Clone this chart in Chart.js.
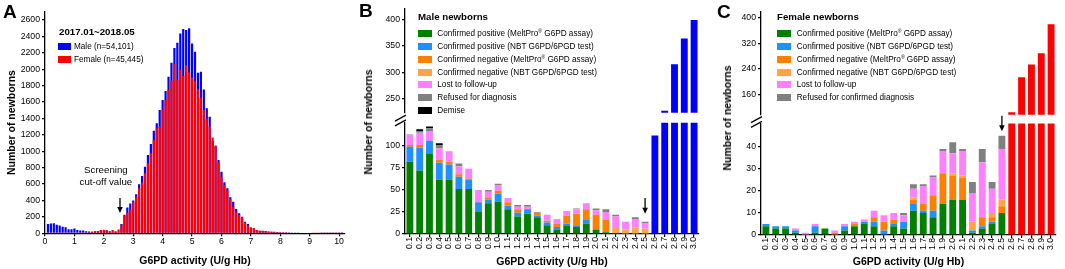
<!DOCTYPE html>
<html>
<head>
<meta charset="utf-8">
<script src="https://cdn.jsdelivr.net/npm/chart.js@4.4.1/dist/chart.umd.min.js"></script>
<style>
  body { margin: 0; background: #fff; width: 1065px; height: 269px; position: relative; overflow: hidden;
         font-family: "Liberation Sans", Arial, sans-serif; color: #000; }
  canvas { position: absolute; }
  .panel { position: absolute; font-weight: bold; font-size: 19px; line-height: 20px; }
  .ytitle { position: absolute; font-weight: bold; font-size: 10.5px; white-space: nowrap;
            transform: translate(-50%, -50%) rotate(-90deg); }
  .ltitle { position: absolute; font-weight: bold; font-size: 9.7px; line-height: 12px; white-space: nowrap; }
  .lrow { position: absolute; height: 10px; display: flex; align-items: center; font-size: 8.2px; white-space: nowrap; }
  .lrow i { display: inline-block; height: 7px; }
  .lrow sup { font-size: 5px; vertical-align: 3px; line-height: 0; }
</style>
</head>
<body>
<canvas id="chartA" width="350" height="269" style="left:0;top:0"></canvas>
<canvas id="chartBtop" width="345" height="120" style="left:360px;top:0"></canvas>
<canvas id="chartBlow" width="345" height="159" style="left:360px;top:110px"></canvas>
<canvas id="chartCtop" width="349" height="122" style="left:716px;top:0"></canvas>
<canvas id="chartClow" width="349" height="159" style="left:716px;top:110px"></canvas>

<div class="panel" style="left:3px;top:2px">A</div>
<div class="panel" style="left:359px;top:1px">B</div>
<div class="panel" style="left:717px;top:2px">C</div>
<div class="ytitle" style="left:368px;top:122px">Number of newborns</div>
<div class="ytitle" style="left:727px;top:118px">Number of newborns</div>
<div id="legends"></div>

<script>
// ---- panel A: distribution of G6PD activity, bins of 0.1 U/g Hb ----
const binsA = [
  0.1, 0.2, 0.3, 0.4, 0.5, 0.6, 0.7, 0.8, 0.9, 1.0,
  1.1, 1.2, 1.3, 1.4, 1.5, 1.6, 1.7, 1.8, 1.9, 2.0,
  2.1, 2.2, 2.3, 2.4, 2.5, 2.6, 2.7, 2.8, 2.9, 3.0,
  3.1, 3.2, 3.3, 3.4, 3.5, 3.6, 3.7, 3.8, 3.9, 4.0,
  4.1, 4.2, 4.3, 4.4, 4.5, 4.6, 4.7, 4.8, 4.9, 5.0,
  5.1, 5.2, 5.3, 5.4, 5.5, 5.6, 5.7, 5.8, 5.9, 6.0,
  6.1, 6.2, 6.3, 6.4, 6.5, 6.6, 6.7, 6.8, 6.9, 7.0,
  7.1, 7.2, 7.3, 7.4, 7.5, 7.6, 7.7, 7.8, 7.9, 8.0,
  8.1, 8.2, 8.3, 8.4, 8.5, 8.6, 8.7, 8.8, 8.9, 9.0,
  9.1, 9.2, 9.3, 9.4, 9.5, 9.6, 9.7, 9.8, 9.9, 10.0,
  10.1
];
const maleA = [
  113, 119, 122, 103, 94, 80, 74, 50, 50, 57,
  41, 33, 33, 25, 22, 17, 26, 29, 35, 29,
  28, 22, 14, 19, 14, 112, 227, 315, 364, 399,
  475, 597, 699, 812, 955, 1089, 1251, 1340, 1503, 1625,
  1735, 1909, 2080, 2259, 2324, 2437, 2490, 2478, 2498, 2314,
  2213, 1957, 1969, 1754, 1523, 1421, 1125, 1068, 893, 751,
  621, 548, 438, 386, 296, 244, 203, 142, 114, 65,
  61, 41, 32, 32, 28, 22, 20, 18, 16, 14,
  13, 12, 11, 10, 9, 9, 8, 8, 7, 7,
  6, 6, 6, 5, 5, 5, 5, 4, 4, 4,
  4
];
const femaleA = [
  5, 4, 4, 3, 1, 5, 3, 2, 5, 6,
  7, 11, 9, 10, 10, 23, 23, 27, 39, 42,
  39, 24, 39, 24, 45, 104, 214, 254, 289, 380,
  447, 548, 617, 731, 853, 975, 1137, 1280, 1300, 1511,
  1625, 1747, 1860, 2064, 1869, 1990, 1917, 2050, 1960, 1896,
  1859, 1754, 1652, 1502, 1393, 1300, 1169, 1068, 865, 690,
  589, 528, 414, 325, 264, 223, 195, 130, 97, 73,
  61, 41, 32, 28, 25, 20, 18, 15, 14, 12,
  11, 10, 9, 8, 8, 7, 7, 6, 6, 6,
  5, 5, 5, 4, 4, 4, 4, 3, 3, 3,
  3
];
const xTicksA = [0, 1, 2, 3, 4, 5, 6, 7, 8, 9, 10];
const yTicksA = [0, 200, 400, 600, 800, 1000, 1200, 1400, 1600, 1800, 2000, 2200, 2400, 2600];

// ---- panels B and C: categories 0.1 .. 3.0 ----
const catsBC = ['0.1','0.2','0.3','0.4','0.5','0.6','0.7','0.8','0.9','1.0',
                '1.1','1.2','1.3','1.4','1.5','1.6','1.7','1.8','1.9','2.0',
                '2.1','2.2','2.3','2.4','2.5','2.6','2.7','2.8','2.9','3.0'];

// male newborns, bins 0.1 .. 2.5 (below cut-off)
const mPosMelt = [82,72,91,62,62,51,51,25,35,37,28,20,23,19,10,5,9,8,12,5,2,1,0,0,0];
const mPosNbt  = [17,26,15,19,17,14,11,11,4,9,4,4,5,2,3,3,3,1,4,0,0,0,0,0,0];
const mNegMelt = [2,3,0,3,3,3,1,1,2,3,4,4,0,3,2,4,9,14,12,17,14,0,0,0,0];
const mNegNbt  = [0,0,0,0,0,0,0,0,0,0,0,0,0,0,0,0,0,0,0,0,0,7,5,7,6];
const mLost    = [11,14,11,13,12,9,11,13,7,6,5,3,3,0,7,5,5,5,7,5,9,12,9,10,6];
const mRefused = [1,2,3,4,0,3,0,0,2,2,0,2,2,1,0,0,0,1,0,2,3,2,0,2,2];
const mDemise  = [0,2,2,2,0,0,0,0,0,0,0,0,0,0,0,0,0,0,0,0,0,0,0,0,0];
const mAbove   = [112,227,315,364,399];   // 2.6 .. 3.0

// female newborns, bins 0.1 .. 2.5
const fPosMelt = [4,3,3,1,0,1,3,0,2,4,5,4,0,4,3,11,10,8,14,16,16,1,3,5,10];
const fPosNbt  = [1,1,1,1,0,3,0,0,2,0,1,2,2,1,3,3,1,3,0,0,0,1,1,1,0];
const fNegMelt = [0,0,0,0,0,0,0,1,0,1,0,2,4,2,0,2,3,7,14,11,10,0,4,2,3];
const fNegNbt  = [0,0,0,0,0,0,0,0,0,0,0,0,0,0,0,1,0,0,0,1,1,4,0,2,3];
const fLost    = [0,0,0,1,1,1,0,1,1,1,1,3,3,3,3,4,8,8,10,9,11,13,25,11,23];
const fRefused = [0,0,0,0,0,0,0,0,0,0,0,0,0,0,1,2,1,1,1,5,1,5,6,3,6];
const fAbove   = [104,214,254,289,380];

const yTicksBtop = [250, 300, 350, 400];
const yTicksBlow = [0, 25, 50, 75, 100];
const yTicksCtop = [160, 240, 320, 400];
const yTicksClow = [0, 10, 20, 30, 40];

const ink = '#000';
const colors = {
  posMelt: '#008000', posNbt: '#1e90ff', negMelt: '#ff7f00', negNbt: '#ffa547',
  lost: '#ff80ff', refused: '#808080', demise: '#000000', male: '#0000ff', female: '#ff0000'
};

Chart.defaults.font.family = '"Liberation Sans", Arial, sans-serif';
Chart.defaults.color = ink;
Chart.defaults.animation = false;
Chart.defaults.plugins.legend.display = false;
Chart.defaults.plugins.tooltip.enabled = false;

const tickFont = { size: 8.7 };
const titleFont = { size: 10.5, weight: 'bold' };

// arrows, notes and the axis-break marks
const marks = {
  id: 'marks',
  afterDatasetsDraw(chart, args, opts) {
    const ctx = chart.ctx, xs = chart.scales.x, ys = chart.scales.y, area = chart.chartArea;
    ctx.save();
    ctx.strokeStyle = ink;
    ctx.fillStyle = ink;
    ctx.lineWidth = 1.3;
    (opts.arrows || []).forEach(a => {
      const x = xs.getPixelForValue(a.x);
      const y0 = ys.getPixelForValue(a.from), y1 = ys.getPixelForValue(a.to);
      ctx.beginPath(); ctx.moveTo(x, y0); ctx.lineTo(x, y1 - 5); ctx.stroke();
      ctx.beginPath(); ctx.moveTo(x - 2.8, y1 - 6); ctx.lineTo(x + 2.8, y1 - 6); ctx.lineTo(x, y1); ctx.closePath(); ctx.fill();
    });
    (opts.notes || []).forEach(n => {
      ctx.font = '9.7px "Liberation Sans", Arial, sans-serif';
      ctx.textAlign = 'center';
      ctx.textBaseline = 'middle';
      ctx.fillText(n.text, xs.getPixelForValue(n.x), ys.getPixelForValue(n.y));
    });
    if (opts.brk) {
      const bx = area.left, by = area.top - opts.brk;
      ctx.lineWidth = 1.2;
      [-2.4, 2.4].forEach(d => {
        ctx.beginPath(); ctx.moveTo(bx - 10, by + d + 3); ctx.lineTo(bx + 1, by + d - 3); ctx.stroke();
      });
    }
    ctx.restore();
  }
};

function yAxis(min, max, ticks, stacked) {
  return {
    stacked, min, max,
    afterBuildTicks: s => { s.ticks = ticks.map(v => ({ value: v })); },
    afterFit: s => { s.width = 45; },
    ticks: { font: tickFont, padding: 2, callback: v => String(v) },
    grid: { display: true, drawOnChartArea: false, tickLength: 3, color: ink, lineWidth: 1.2 },
    border: { display: true, color: ink, width: 1.3 }
  };
}

// ---- panel A ----
new Chart(document.getElementById('chartA'), {
  type: 'bar',
  data: {
    datasets: [
      { label: 'Female (n=45,445)', data: binsA.map((x, i) => ({ x, y: femaleA[i] })),
        backgroundColor: colors.female, order: 0 },
      { label: 'Male (n=54,101)', data: binsA.map((x, i) => ({ x, y: maleA[i] })),
        backgroundColor: colors.male, order: 1 }
    ]
  },
  options: {
    responsive: false,
    devicePixelRatio: 1,
    layout: { padding: { top: 11.8, right: 5, left: 0, bottom: 0 } },
    datasets: { bar: { grouped: false, barPercentage: 0.75, categoryPercentage: 1 } },
    scales: {
      x: {
        type: 'linear', min: 0, max: 10.2, offset: false,
        afterBuildTicks: s => { s.ticks = xTicksA.map(v => ({ value: v })); },
        afterFit: s => { s.height = 35.7; },
        ticks: { font: tickFont, padding: 0, callback: v => String(v) },
        grid: { display: true, drawOnChartArea: false, offset: false, tickLength: 3, color: ink, lineWidth: 1.2 },
        border: { display: true, color: ink, width: 1.3 },
        title: { display: true, text: 'G6PD activity (U/g Hb)', font: titleFont, padding: { top: 0, bottom: 2 } }
      },
      y: Object.assign(yAxis(0, 2700, yTicksA, false), {
        title: { display: true, text: 'Number of newborns', font: titleFont, padding: { top: 5.7, bottom: 0 } }
      })
    },
    plugins: {
      marks: {
        arrows: [{ x: 2.55, from: 430, to: 247 }],
        notes: [{ text: 'Screening', x: 2.07, y: 772 }, { text: 'cut-off value', x: 2.07, y: 625 }]
      }
    }
  },
  plugins: [marks]
});

// ---- panels B and C: stacked bars with a broken y axis (two stacked charts) ----
const pad = (arr, tail) => arr.concat(tail.map(() => null));
const padHead = (arr, n) => Array(n).fill(null).concat(arr);

function stackSets(rows, above, aboveColor) {
  const sets = rows.map(r => ({ label: r[0], data: pad(r[1], above), backgroundColor: r[2] }));
  sets.push({ label: 'above cut-off', data: padHead(above, rows[0][1].length), backgroundColor: aboveColor });
  return sets;
}

const rowsB = [
  ['Confirmed positive (MeltPro® G6PD assay)', mPosMelt, colors.posMelt],
  ['Confirmed positive (NBT G6PD/6PGD test)', mPosNbt, colors.posNbt],
  ['Confirmed negative (MeltPro® G6PD assay)', mNegMelt, colors.negMelt],
  ['Confirmed negative (NBT G6PD/6PGD test)', mNegNbt, colors.negNbt],
  ['Lost to follow-up', mLost, colors.lost],
  ['Refused for diagnosis', mRefused, colors.refused],
  ['Demise', mDemise, colors.demise]
];
const rowsC = [
  ['Confirmed positive (MeltPro® G6PD assay)', fPosMelt, colors.posMelt],
  ['Confirmed positive (NBT G6PD/6PGD test)', fPosNbt, colors.posNbt],
  ['Confirmed negative (MeltPro® G6PD assay)', fNegMelt, colors.negMelt],
  ['Confirmed negative (NBT G6PD/6PGD test)', fNegNbt, colors.negNbt],
  ['Lost to follow-up', fLost, colors.lost],
  ['Refused for confirmed diagnosis', fRefused, colors.refused]
];

function brokenPanel(topId, lowId, rows, above, aboveColor, top, low) {
  const common = {
    responsive: false,
    devicePixelRatio: 1,
    datasets: { bar: { barPercentage: 0.7, categoryPercentage: 1, clip: 0 } }
  };
  new Chart(document.getElementById(topId), {
    type: 'bar',
    data: { labels: catsBC, datasets: stackSets(rows, above, aboveColor) },
    options: Object.assign({}, common, {
      layout: { padding: top.padding },
      scales: {
        x: { stacked: true, display: false },
        y: yAxis(top.min, top.max, top.ticks, true)
      }
    })
  });
  new Chart(document.getElementById(lowId), {
    type: 'bar',
    data: { labels: catsBC, datasets: stackSets(rows, above, aboveColor) },
    options: Object.assign({}, common, {
      layout: { padding: low.padding },
      scales: {
        x: {
          stacked: true,
          afterFit: s => { s.height = low.xHeight; },
          ticks: { font: tickFont, padding: 0, autoSkip: false, minRotation: 90, maxRotation: 90 },
          grid: { display: true, drawOnChartArea: false, offset: false, tickLength: 3, color: ink, lineWidth: 1.2 },
          border: { display: true, color: ink, width: 1.3 },
          title: { display: true, text: 'G6PD activity (U/g Hb)', font: titleFont, padding: { top: 0, bottom: 1 } }
        },
        y: yAxis(low.min, low.max, low.ticks, true)
      },
      plugins: { marks: { arrows: [low.arrow], brk: low.brk } }
    }),
    plugins: [marks]
  });
}

brokenPanel('chartBtop', 'chartBlow', rowsB, mAbove, colors.male,
  { min: 223, max: 421, ticks: yTicksBtop, padding: { top: 8.3, right: 6, bottom: 1.7, left: 0 } },
  { min: 0, max: 126.3, ticks: yTicksBlow, padding: { top: 12.8, right: 6, bottom: 0, left: 0 },
    xHeight: 35, arrow: { x: 24, from: 41, to: 23 }, brk: 2.3 });

brokenPanel('chartCtop', 'chartClow', rowsC, fAbove, colors.female,
  { min: 96, max: 420, ticks: yTicksCtop, padding: { top: 11.6, right: 9, bottom: 1.5, left: 0 } },
  { min: 0, max: 50.5, ticks: yTicksClow, padding: { top: 13.5, right: 9, bottom: 0, left: 0 },
    xHeight: 34, arrow: { x: 24, from: 54, to: 47 }, brk: 1.5 });

// ---- legends (HTML text, swatches taken from the dataset colours) ----
const legendHost = document.getElementById('legends');
function legend(title, tx, ty, items, sx, sw, textX, y0, step) {
  const t = document.createElement('div');
  t.className = 'ltitle';
  t.style.left = tx + 'px';
  t.style.top = (ty - 6) + 'px';
  t.textContent = title;
  legendHost.appendChild(t);
  items.forEach((it, i) => {
    const row = document.createElement('div');
    row.className = 'lrow';
    row.style.left = sx + 'px';
    row.style.top = (y0 + i * step - 5) + 'px';
    row.innerHTML = '<i style="width:' + sw + 'px;background:' + it[1] + ';margin-right:' +
      (textX - sx - sw) + 'px"></i><span>' + it[0].replace('®', '<sup>®</sup>') + '</span>';
    legendHost.appendChild(row);
  });
}
legend('2017.01~2018.05', 59, 32,
  [['Male (n=54,101)', colors.male], ['Female (n=45,445)', colors.female]], 58, 13, 74, 46, 13);
legend('Male newborns', 418, 17.3, rowsB.map(r => [r[0], r[2]]), 418, 14, 437.3, 33.3, 12.9);
legend('Female newborns', 777, 17.3, rowsC.map(r => [r[0], r[2]]), 777, 13.7, 796.7, 33.3, 12.9);
</script>
</body>
</html>
